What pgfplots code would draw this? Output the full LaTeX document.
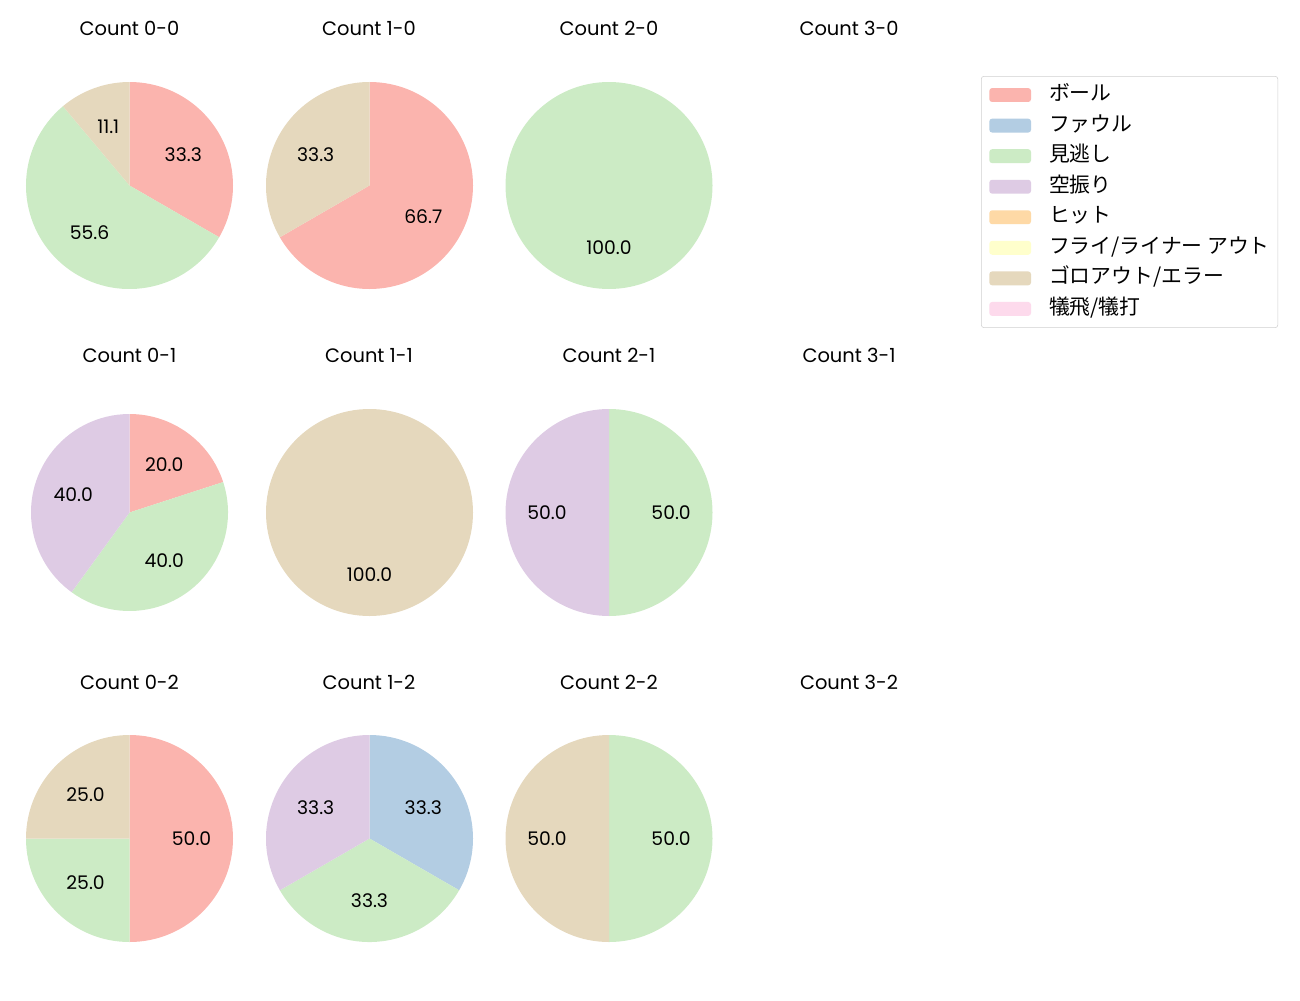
\documentclass[border=0pt]{standalone}
\usepackage{fontspec}
\setmainfont{Poppins}
\newfontfamily\jpfont{Noto Sans CJK JP}
\usepackage{pgfplots}
\pgfplotsset{compat=1.18}

\definecolor{c0}{HTML}{FBB4AE}
\definecolor{c1}{HTML}{B3CDE3}
\definecolor{c2}{HTML}{CCEBC5}
\definecolor{c3}{HTML}{DECBE4}
\definecolor{c4}{HTML}{FED9A6}
\definecolor{c5}{HTML}{FFFFCC}
\definecolor{c6}{HTML}{E5D8BD}
\definecolor{c7}{HTML}{FDDAEC}

% counts per category: ball, foul, called, swinging, hit, fly/liner, grounder/error, sacrifice
\newcommand{\drawpie}[2]{%
  \pgfmathsetmacro\tot{0}%
  \pgfplotsforeachungrouped \v in {#2}{\pgfmathsetmacro\tot{\tot+\v}}%
  \def\cum{0}\def\idx{0}%
  \pgfplotsforeachungrouped \v in {#2}{%
    \ifdim\v pt>0pt
      \pgfmathsetmacro\sa{90-360*\cum/\tot}%
      \pgfmathsetmacro\ea{90-360*(\cum+\v)/\tot}%
      \pgfmathsetmacro\ma{(\sa+\ea)/2}%
      \pgfmathsetmacro\pc{100*\v/\tot}%
      \pgfmathsetmacro\sx{cos(\sa)}\pgfmathsetmacro\sy{sin(\sa)}%
      \pgfmathsetmacro\lx{0.6*cos(\ma)}\pgfmathsetmacro\ly{0.6*sin(\ma)}%
      \edef\cmd{\noexpand\fill[c\idx] (axis cs:0,0) -- (axis cs:\sx,\sy)
        arc[start angle=\sa, end angle=\ea, radius=#1*0.72pt] -- cycle;
        \noexpand\node[lbl] at (axis cs:\lx,\ly)
        {\noexpand\pgfmathprintnumber[fixed,fixed zerofill,precision=1,assume math mode=true]{\pc}};}%
      \cmd
      \pgfmathsetmacro\cum{\cum+\v}%
    \fi
    \pgfmathtruncatemacro\idx{\idx+1}}%
}

\newcommand{\pie}[4]{% cx, cy, radius (px), counts
  \begin{axis}[at={(#1*0.72pt,-#2*0.72pt)}, anchor=center, hide axis,
    x=#3*0.72pt, y=#3*0.72pt, xmin=-1, xmax=1, ymin=-1, ymax=1, clip=false]
    \drawpie{#3}{#4}
  \end{axis}}

\begin{document}
\begin{tikzpicture}[lbl/.style={font=\fontsize{13.5}{15}\selectfont, inner sep=0pt},
  ttl/.style={font=\fontsize{14}{16}\selectfont, inner sep=0pt, anchor=base}]
\useasboundingbox (0,0) rectangle (936pt,-720pt);

\pie{129.5}{185.5}{103.5}{3,0,5,0,0,0,1,0}
\pie{369.5}{185.5}{103.5}{2,0,0,0,0,0,1,0}
\pie{609}{185.5}{103.5}{0,0,1,0,0,0,0,0}
\pie{129.5}{512.5}{98.5}{1,0,2,2,0,0,0,0}
\pie{369.5}{512.5}{103.5}{0,0,0,0,0,0,1,0}
\pie{609}{512.5}{103.5}{0,0,1,1,0,0,0,0}
\pie{129.5}{838.5}{103.5}{2,0,1,0,0,0,1,0}
\pie{369.5}{838.5}{103.5}{0,1,1,1,0,0,0,0}
\pie{609}{838.5}{103.5}{0,0,1,0,0,0,1,0}

\node[ttl] at (129.5*0.72pt,-35*0.72pt) {Count 0-0};
\node[ttl] at (369*0.72pt,-35*0.72pt) {Count 1-0};
\node[ttl] at (609*0.72pt,-35*0.72pt) {Count 2-0};
\node[ttl] at (849*0.72pt,-35*0.72pt) {Count 3-0};
\node[ttl] at (129.5*0.72pt,-362*0.72pt) {Count 0-1};
\node[ttl] at (369*0.72pt,-362*0.72pt) {Count 1-1};
\node[ttl] at (609*0.72pt,-362*0.72pt) {Count 2-1};
\node[ttl] at (849*0.72pt,-362*0.72pt) {Count 3-1};
\node[ttl] at (129.5*0.72pt,-689*0.72pt) {Count 0-2};
\node[ttl] at (369*0.72pt,-689*0.72pt) {Count 1-2};
\node[ttl] at (609*0.72pt,-689*0.72pt) {Count 2-2};
\node[ttl] at (849*0.72pt,-689*0.72pt) {Count 3-2};

\begin{axis}[at={(981*0.72pt,-76*0.72pt)}, anchor=north west, hide axis,
  scale only axis, width=1pt, height=1pt, xmin=0, xmax=1, ymin=0, ymax=1,
  legend cell align=left,
  legend style={at={(0,1)}, anchor=north west, draw=black!18, rounded corners=2pt,
    font=\jpfont\fontsize{15}{17}\selectfont, inner xsep=5.8pt, inner ysep=6.5pt,
    nodes={inner sep=0pt, text height=11pt, text depth=3pt}, row sep=8pt,
    /tikz/every odd column/.append style={column sep=13pt},
    /tikz/every even column/.append style={column sep=5.5pt}},
  legend image code/.code={\fill[#1, draw=none] (0pt,-5pt) rectangle (30pt,5pt);}]
  \addlegendimage{fill=c0}
  \addlegendimage{fill=c1}
  \addlegendimage{fill=c2}
  \addlegendimage{fill=c3}
  \addlegendimage{fill=c4}
  \addlegendimage{fill=c5}
  \addlegendimage{fill=c6}
  \addlegendimage{fill=c7}
  \legend{ボール, ファウル, 見逃し, 空振り, ヒット, フライ/ライナー アウト, ゴロアウト/エラー, 犠飛/犠打}
\end{axis}
\end{tikzpicture}
\end{document}
